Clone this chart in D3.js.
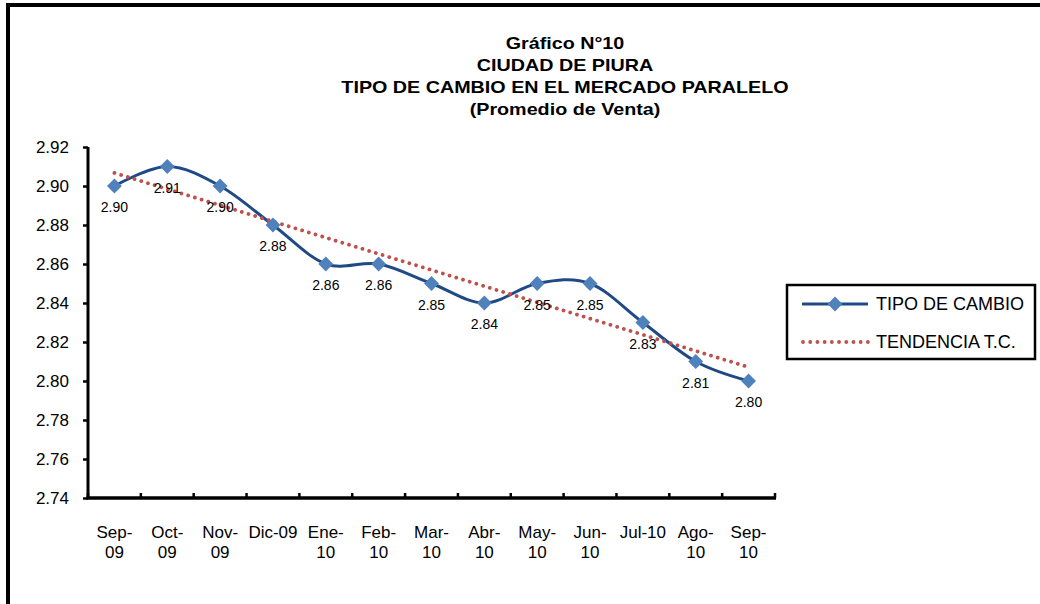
<!DOCTYPE html>
<html>
<head>
<meta charset="utf-8">
<script src="https://cdn.jsdelivr.net/npm/d3@7"></script>
<style>
  html, body { margin: 0; padding: 0; background: #fff; }
  svg { display: block; font-family: "Liberation Sans", Arial, sans-serif; }
</style>
</head>
<body>
<svg id="chart" width="1040" height="604"></svg>
<script>
// ---- data ----
const categories = ["Sep-09","Oct-09","Nov-09","Dic-09","Ene-10","Feb-10","Mar-10","Abr-10","May-10","Jun-10","Jul-10","Ago-10","Sep-10"];
const tickLabels = [["Sep-","09"],["Oct-","09"],["Nov-","09"],["Dic-09"],["Ene-","10"],["Feb-","10"],["Mar-","10"],["Abr-","10"],["May-","10"],["Jun-","10"],["Jul-10"],["Ago-","10"],["Sep-","10"]];
const tipoCambio = [2.90, 2.91, 2.90, 2.88, 2.86, 2.86, 2.85, 2.84, 2.85, 2.85, 2.83, 2.81, 2.80];
const tendencia = [2.9067, 2.8071];        // trend line at first and last month
const yTicks = [2.74, 2.76, 2.78, 2.80, 2.82, 2.84, 2.86, 2.88, 2.90, 2.92];
const titleLines = ["Gráfico N°10", "CIUDAD DE PIURA", "TIPO DE CAMBIO EN EL MERCADO PARALELO", "(Promedio de Venta)"];
const seriesNames = ["TIPO DE CAMBIO", "TENDENCIA T.C."];

// ---- layout ----
const svg = d3.select("#chart");
const plot = { left: 88, right: 775, top: 147, bottom: 498 };
const lineColor = "#1F4A85", markerColor = "#4F81BD", trendColor = "#C0504D";

// outer frame
svg.append("rect").attr("x", 8).attr("y", 5).attr("width", 1200).attr("height", 800)
  .attr("fill", "none").attr("stroke", "#000").attr("stroke-width", 4);

// title
const tg = svg.append("g").attr("transform", "translate(565,0) scale(1.16,1)");
titleLines.forEach((t, i) => {
  tg.append("text").attr("x", 0).attr("y", 49 + i * 22)
    .attr("text-anchor", "middle").attr("font-weight", "bold").attr("font-size", 17)
    .attr("fill", "#000").text(t);
});

const x = d3.scaleBand().domain(categories).range([plot.left, plot.right]).padding(0);
const y = d3.scaleLinear().domain([2.74, 2.92]).range([plot.bottom, plot.top]);

// y axis
const yAxis = d3.axisLeft(y).tickValues(yTicks).tickFormat(d3.format(".2f")).tickSize(5).tickPadding(14);
const yg = svg.append("g").attr("transform", `translate(${plot.left},0)`).call(yAxis);
yg.select(".domain").attr("stroke", "#000").attr("stroke-width", 3).attr("d", `M0,${plot.top}V${plot.bottom}`);
yg.selectAll(".tick line").attr("stroke", "#000").attr("stroke-width", 2.5);
yg.selectAll(".tick text").attr("font-size", 17).attr("fill", "#000")
  .attr("font-family", "'Liberation Sans', Arial, sans-serif");

// x axis (ticks at band boundaries, pointing up)
const boundaries = categories.map(c => x(c)).concat([plot.right]);
const xg = svg.append("g");
xg.append("line").attr("x1", plot.left - 1.5).attr("x2", plot.right + 1).attr("y1", plot.bottom).attr("y2", plot.bottom)
  .attr("stroke", "#000").attr("stroke-width", 3.5);
xg.selectAll("line.tk").data(boundaries).join("line").attr("class", "tk")
  .attr("x1", d => d).attr("x2", d => d).attr("y1", plot.bottom).attr("y2", plot.bottom - 5)
  .attr("stroke", "#000").attr("stroke-width", 2.5);
const xl = xg.selectAll("text.xl").data(categories).join("text").attr("class", "xl")
  .attr("text-anchor", "middle").attr("font-size", 17).attr("fill", "#000")
  .attr("transform", d => `translate(${x(d) + x.bandwidth() / 2},538)`);
xl.each(function(d, i) {
  const t = d3.select(this);
  tickLabels[i].forEach((s, j) => t.append("tspan").attr("x", 0).attr("dy", j === 0 ? 0 : 20).text(s));
});

const cx = d => x(d) + x.bandwidth() / 2;

// main series (smoothed)
const pts = categories.map((c, i) => [cx(c), y(tipoCambio[i])]);
svg.append("path").attr("d", d3.line().curve(d3.curveCardinal.tension(0))(pts))
  .attr("fill", "none").attr("stroke", lineColor).attr("stroke-width", 3);

// trend line (dotted)
const trendPts = [[cx(categories[0]), y(tendencia[0])], [cx(categories[categories.length - 1]), y(tendencia[1])]];
svg.append("path").attr("d", d3.line()(trendPts))
  .attr("fill", "none").attr("stroke", trendColor).attr("stroke-width", 3.8)
  .attr("stroke-linecap", "round").attr("stroke-dasharray", "0.01 7");

// markers
const diamond = d3.symbol().type(d3.symbolSquare).size(110);
svg.selectAll("path.mk").data(pts).join("path").attr("class", "mk")
  .attr("d", diamond).attr("fill", markerColor)
  .attr("transform", d => `translate(${d[0]},${d[1]}) rotate(45)`);

// data labels
svg.selectAll("text.dl").data(categories).join("text").attr("class", "dl")
  .attr("x", (c) => cx(c)).attr("y", (c, i) => y(tipoCambio[i]) + 26)
  .attr("text-anchor", "middle").attr("font-size", 14).attr("fill", "#000")
  .text((c, i) => d3.format(".2f")(tipoCambio[i]));

// legend
const lg = svg.append("g");
lg.append("rect").attr("x", 787).attr("y", 285).attr("width", 248).attr("height", 74)
  .attr("fill", "#fff").attr("stroke", "#000").attr("stroke-width", 2.5);
lg.append("line").attr("x1", 802).attr("x2", 868).attr("y1", 304).attr("y2", 304)
  .attr("stroke", lineColor).attr("stroke-width", 3);
lg.append("path").attr("d", diamond).attr("fill", markerColor).attr("transform", "translate(835,304) rotate(45)");
lg.append("line").attr("x1", 803).attr("x2", 868).attr("y1", 342).attr("y2", 342)
  .attr("stroke", trendColor).attr("stroke-width", 3.8).attr("stroke-linecap", "round").attr("stroke-dasharray", "0.01 7.2");
seriesNames.forEach((n, i) => {
  lg.append("text").attr("x", 876).attr("y", 310 + i * 38).attr("font-size", 18).attr("fill", "#000").text(n);
});
</script>
</body>
</html>
